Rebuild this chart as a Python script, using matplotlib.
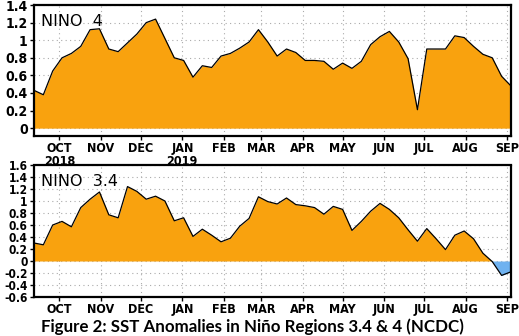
import numpy as np
import pandas as pd
import matplotlib
matplotlib.use("Agg")
import matplotlib.pyplot as plt
import matplotlib.dates as mdates

# weekly SST anomalies (degC), Wednesdays from 12 Sep 2018
weeks = pd.date_range("2018-09-12", periods=52, freq="7D")

nino4 = [0.43, 0.38, 0.65, 0.80, 0.85, 0.93, 1.12, 1.13, 0.90, 0.87,
         0.97, 1.07, 1.20, 1.24, 1.02, 0.80, 0.77, 0.58, 0.71, 0.69,
         0.82, 0.85, 0.91, 0.98, 1.12, 0.98, 0.82, 0.90, 0.86, 0.77,
         0.77, 0.76, 0.67, 0.74, 0.68, 0.76, 0.95, 1.04, 1.10, 0.98,
         0.79, 0.21, 0.90, 0.90, 0.90, 1.05, 1.03, 0.93, 0.84, 0.80,
         0.59, 0.48]

nino34 = [0.30, 0.27, 0.60, 0.66, 0.57, 0.89, 1.03, 1.15, 0.77, 0.72,
          1.24, 1.16, 1.03, 1.08, 1.00, 0.67, 0.72, 0.41, 0.53, 0.43,
          0.32, 0.38, 0.58, 0.71, 1.07, 0.99, 0.95, 1.05, 0.94, 0.92,
          0.89, 0.78, 0.91, 0.86, 0.51, 0.66, 0.83, 0.96, 0.86, 0.72,
          0.52, 0.33, 0.54, 0.37, 0.19, 0.43, 0.50, 0.37, 0.13, -0.01,
          -0.24, -0.18]

month_starts = pd.date_range("2018-10-01", "2019-09-01", freq="MS")
month_names = ["OCT", "NOV", "DEC", "JAN", "FEB", "MAR", "APR", "MAY",
               "JUN", "JUL", "AUG", "SEP"]
top_labels = ["OCT\n2018", "NOV", "DEC", "JAN\n2019", "FEB", "MAR", "APR",
              "MAY", "JUN", "JUL", "AUG", "SEP"]

ORANGE = "#F9A20E"
BLUE = "#6FB2F0"
narrow = ["Liberation Sans Narrow", "DejaVu Sans"]

fig = plt.figure(figsize=(5.19, 3.36), dpi=100)
ax1 = fig.add_axes([0.0655, 0.595, 0.919, 0.39])
ax2 = fig.add_axes([0.0655, 0.116, 0.919, 0.393])


def draw_panel(ax, vals, ylim, yticks, xlabels, title, ysize):
    x = mdates.date2num(weeks)
    v = np.array(vals)
    ax.fill_between(x, 0, v, where=v >= 0, interpolate=True,
                    color=ORANGE, lw=0, zorder=2)
    ax.fill_between(x, 0, v, where=v <= 0, interpolate=True,
                    color=BLUE, lw=0, zorder=2)
    ax.plot(x, v, color="black", lw=0.9, zorder=3)
    ax.set_xlim(x[0], x[-1])
    ax.set_ylim(*ylim)
    ax.set_yticks(yticks)
    ax.set_yticklabels([f"{t:g}" for t in yticks], fontsize=ysize,
                       fontweight="bold", family=narrow, stretch="condensed")
    ax.set_xticks(mdates.date2num(month_starts))
    ax.set_xticklabels(xlabels, fontsize=9, fontweight="bold",
                       family=narrow, stretch="condensed", linespacing=0.95)
    ax.tick_params(direction="out", length=3, width=1, pad=1.5)
    ax.grid(True, color="#aaaaaa", ls=(0, (1, 3)), lw=0.8, zorder=1)
    for s in ax.spines.values():
        s.set_linewidth(1.6)
        s.set_linestyle((0, (3, 1)))
        s.set_zorder(4)
    ax.text(0.014, 0.93, title, transform=ax.transAxes, fontsize=11.5,
            va="top", ha="left", zorder=5)


draw_panel(ax1, nino4, (-0.09, 1.4), np.round(np.arange(0, 1.41, 0.2), 1),
           top_labels, "NINO  4", 10)
draw_panel(ax2, nino34, (-0.6, 1.6), np.round(np.arange(-0.6, 1.61, 0.2), 1),
           month_names, "NINO  3.4", 8.6)

fig.text(0.487, 0.004, "Figure 2: SST Anomalies in Ni\u00f1o Regions 3.4 & 4 (NCDC)",
         ha="center", va="bottom", fontsize=12.2, fontweight="bold",
         family=["Lato", "DejaVu Sans"])

fig.savefig("out.png", dpi=100)
